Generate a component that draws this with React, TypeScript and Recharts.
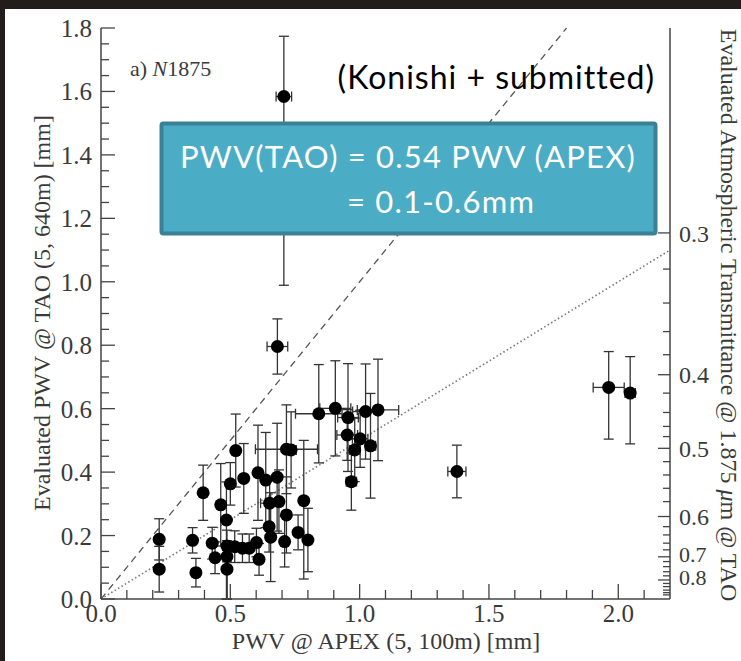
import React from "react";
import { ScatterChart, Scatter, XAxis, YAxis, ErrorBar, ReferenceLine } from "recharts";

// PWV @ APEX (x) vs evaluated PWV @ TAO (y), with errors
const apexPwv = [
  0.707, 0.682, 1.963, 2.046, 1.376, 0.225, 0.225, 0.395, 0.354, 0.367,
  0.43, 0.441, 0.463, 0.485, 0.5, 0.521, 0.552, 0.487, 0.487, 0.487,
  0.517, 0.547, 0.573, 0.601, 0.611, 0.607, 0.637, 0.681, 0.717, 0.735,
  0.652, 0.688, 0.717, 0.65, 0.656, 0.71, 0.762, 0.784, 0.8, 0.842,
  0.906, 0.955, 1.023, 1.071, 0.952, 1.002, 0.981, 1.042, 0.968,
];
const taoPwv = [
  1.584, 0.796, 0.667, 0.649, 0.402, 0.188, 0.094, 0.335, 0.185, 0.083,
  0.176, 0.13, 0.297, 0.249, 0.363, 0.468, 0.38, 0.167, 0.134, 0.094,
  0.165, 0.16, 0.16, 0.178, 0.125, 0.398, 0.375, 0.384, 0.472, 0.47,
  0.302, 0.307, 0.265, 0.228, 0.195, 0.181, 0.21, 0.31, 0.186, 0.584,
  0.601, 0.572, 0.591, 0.596, 0.517, 0.505, 0.47, 0.483, 0.37,
];
const taoErr: (number | number[])[] = [
  [0.595, 0.19], 0.087, [0.163, 0.113], [0.16, 0.115], 0.083, 0.065, 0.072, 0.087, 0.04, 0.045,
  0.05, 0.05, 0.13, [0.25, 0.12], 0.067, 0.115, 0.11, 0.05, [0.134, 0.05], [0.094, 0.06],
  0.05, 0.045, 0.045, 0.045, 0.05, 0.15, 0.15, 0.17, 0.14, 0.12,
  0.08, 0.1, 0.12, 0.08, 0.14, 0.08, 0.055, [0.247, 0.19], 0.1, 0.155,
  0.15, 0.17, 0.15, 0.16, 0.08, 0.09, 0.1, 0.165, 0.09,
];
const apexErr = [
  0.03, 0.04, 0.06, 0.02, 0.035, 0.01, 0.01, 0.01, 0.01, 0.01,
  0.01, 0.01, 0.01, 0.01, 0.01, 0.01, 0.01, 0.01, 0.01, 0.01,
  0.01, 0.01, 0.01, 0.01, 0.01, 0.01, 0.01, 0.01, 0.12, 0.02,
  0.035, 0.01, 0.01, 0.01, 0.01, 0.01, 0.01, 0.01, 0.01, 0.09,
  0.06, 0.04, 0.05, 0.08, 0.04, 0.03, 0.02, 0.02, 0.02,
];

// reference lines y = slope * x
const refSlopes = [1, 0.5];
const refEnds = [1.8, 2.2];

const xMajorTicks = [0, 0.5, 1.0, 1.5, 2.0];
const xMinorTicks = [0.1, 0.2, 0.3, 0.4, 0.6, 0.7, 0.8, 0.9, 1.1, 1.2, 1.3, 1.4, 1.6, 1.7, 1.8, 1.9, 2.1];
const yMajorTicks = [0, 0.2, 0.4, 0.6, 0.8, 1.0, 1.2, 1.4, 1.6, 1.8];

// right axis: transmittance, placed at the PWV it corresponds to
const transLabels = ["0.3", "0.4", "0.5", "0.6", "0.7", "0.8"];
const transMajorPwv = [1.154, 0.707, 0.475, 0.26, 0.133, 0.06];
const transMinorPwv = [
  1.04, 0.933, 0.843, 0.77, 0.649, 0.588, 0.544, 0.512, 0.433, 0.391, 0.349, 0.307,
  0.228, 0.202, 0.176, 0.155, 0.118, 0.102, 0.086, 0.073, 0.049, 0.039, 0.028, 0.02, 0.013,
];

const points = apexPwv.map((x, i) => ({ x, y: taoPwv[i], ey: taoErr[i], ex: apexErr[i] }));

const yMinorTicks: number[] = [];
for (let v = 0.05; v < 1.8; v += 0.05) {
  const r = Math.round(v * 100) / 100;
  if (!yMajorTicks.some((m) => Math.abs(m - r) < 1e-6)) yMinorTicks.push(r);
}

const SERIF = "'Liberation Serif', 'Times New Roman', serif";
const SANS = "Lato, 'Open Sans', sans-serif";
const AX = "#444";
const TXT = "#3a3a3a";
const TICK_FS = 25;

const has = (arr: number[], v: number) => arr.some((m) => Math.abs(m - v) < 1e-6);

const LeftTick = (p: any) => {
  const v = p.payload.value;
  const major = has(yMajorTicks, v);
  return (
    <g>
      <line x1={p.x} x2={p.x + (major ? 14 : 8)} y1={p.y} y2={p.y} stroke={AX} strokeWidth={1.3} />
      {major && (
        <text x={p.x - 9} y={p.y} dy="0.36em" textAnchor="end" fontFamily={SERIF} fontSize={TICK_FS} fill={TXT}>
          {v.toFixed(1)}
        </text>
      )}
    </g>
  );
};

const BottomTick = (p: any) => {
  const v = p.payload.value;
  const major = has(xMajorTicks, v);
  return (
    <g>
      <line x1={p.x} x2={p.x} y1={p.y} y2={p.y - (major ? 15 : 9)} stroke={AX} strokeWidth={1.3} />
      {major && (
        <text x={p.x} y={p.y + 14} dy="0.36em" textAnchor="middle" fontFamily={SERIF} fontSize={TICK_FS} fill={TXT}>
          {v.toFixed(1)}
        </text>
      )}
    </g>
  );
};

const TopTick = (p: any) => {
  const major = has(xMajorTicks, p.payload.value);
  return <line x1={p.x} x2={p.x} y1={p.y} y2={p.y + (major ? 15 : 7)} stroke={AX} strokeWidth={1.3} />;
};

// the two lowest labels sit a little above their ticks, as in the original
const transLabelShift = [0, 0, 0, 0, -3, -3];

const RightTick = (p: any) => {
  const idx = transMajorPwv.findIndex((m) => Math.abs(m - p.payload.value) < 1e-6);
  const major = idx >= 0;
  return (
    <g>
      <line x1={p.x} x2={p.x - (major ? 12 : 7)} y1={p.y} y2={p.y} stroke={AX} strokeWidth={1.3} />
      {major && (
        <text
          x={p.x + 9}
          y={p.y + transLabelShift[idx]}
          dy="0.36em"
          textAnchor="start"
          fontFamily={SERIF}
          fontSize={idx >= 4 ? 22 : 24}
          fill={TXT}
        >
          {transLabels[idx]}
        </text>
      )}
    </g>
  );
};

const Dot = (p: any) => <circle cx={p.cx} cy={p.cy} r={6.5} fill="#000" />;

export default function App() {
  return (
    <div style={{ position: "absolute", left: 0, top: 0, width: 741, height: 661, background: "#221d1a", overflow: "hidden" }}>
      <div style={{ position: "absolute", left: 5, top: 9, width: 736, height: 652, background: "#fff" }} />
      <div style={{ position: "absolute", left: 0, top: 0 }}>
        <ScatterChart width={741} height={661} margin={{ top: 28, right: 0, bottom: 0, left: 0 }}>
          <XAxis
            xAxisId="b"
            type="number"
            dataKey="x"
            domain={[0, 2.2]}
            allowDataOverflow
            ticks={[...xMajorTicks, ...xMinorTicks].sort((a, b) => a - b)}
            interval={0}
            height={62}
            tickSize={0}
            tickMargin={0}
            tickLine={false}
            tick={BottomTick}
            axisLine={{ stroke: AX, strokeWidth: 1.5 }}
          />
          <XAxis
            xAxisId="t"
            orientation="top"
            type="number"
            domain={[0, 2.2]}
            allowDataOverflow
            ticks={[...xMajorTicks, ...xMinorTicks].sort((a, b) => a - b)}
            interval={0}
            height={0}
            tickSize={0}
            tickMargin={0}
            tickLine={false}
            tick={TopTick}
            axisLine={{ stroke: AX, strokeWidth: 1.5 }}
          />
          <YAxis
            yAxisId="l"
            type="number"
            dataKey="y"
            domain={[0, 1.8]}
            allowDataOverflow
            ticks={[...yMajorTicks, ...yMinorTicks].sort((a, b) => a - b)}
            interval={0}
            width={101}
            tickSize={0}
            tickMargin={0}
            tickLine={false}
            tick={LeftTick}
            axisLine={{ stroke: AX, strokeWidth: 1.5 }}
          />
          <YAxis
            yAxisId="r"
            orientation="right"
            type="number"
            domain={[0, 1.8]}
            allowDataOverflow
            ticks={[...transMajorPwv, ...transMinorPwv].sort((a, b) => a - b)}
            interval={0}
            width={71}
            tickSize={0}
            tickMargin={0}
            tickLine={false}
            tick={RightTick}
            axisLine={{ stroke: AX, strokeWidth: 1.5 }}
          />
          <ReferenceLine
            xAxisId="b"
            yAxisId="l"
            segment={[{ x: 0, y: 0 }, { x: refEnds[0], y: refSlopes[0] * refEnds[0] }]}
            stroke="#555"
            strokeWidth={1.3}
            strokeDasharray="7 5"
            ifOverflow="visible"
          />
          <ReferenceLine
            xAxisId="b"
            yAxisId="l"
            segment={[{ x: 0, y: 0 }, { x: refEnds[1], y: refSlopes[1] * refEnds[1] }]}
            stroke="#777"
            strokeWidth={1.6}
            strokeDasharray="1.5 2.5"
            ifOverflow="visible"
          />
          <Scatter xAxisId="b" yAxisId="l" data={points} shape={Dot} isAnimationActive={false}>
            <ErrorBar dataKey="ey" direction="y" width={5} stroke="#333" strokeWidth={1.3} isAnimationActive={false} />
            <ErrorBar dataKey="ex" direction="x" width={5} stroke="#333" strokeWidth={1.3} isAnimationActive={false} />
          </Scatter>
        </ScatterChart>
      </div>
      <svg width={741} height={661} style={{ position: "absolute", left: 0, top: 0, pointerEvents: "none" }}>
        <text x={130} y={68} dy="0.35em" fontFamily={SERIF} fontSize={22} fill={TXT}>
          a) <tspan fontStyle="italic">N</tspan>1875
        </text>
        <text x={42} y={313} transform="rotate(-90 42 313)" textAnchor="middle" dy="0.35em" fontFamily={SERIF} fontSize={24} fill={TXT}>
          Evaluated PWV @ TAO (5, 640m) [mm]
        </text>
        <text x={386} y={641} textAnchor="middle" dy="0.35em" fontFamily={SERIF} fontSize={24} fill={TXT}>
          PWV @ APEX (5, 100m) [mm]
        </text>
        <text x={729} y={315} transform="rotate(90 729 315)" textAnchor="middle" dy="0.35em" fontFamily={SERIF} fontSize={24} fill={TXT}>
          Evaluated Atmospheric Transmittance @ 1.875 <tspan fontStyle="italic">μ</tspan>m @ TAO
        </text>
        <text x={655} y={78} dy="0.35em" textAnchor="end" fontFamily={SANS} fontSize={32} letterSpacing={1} fill="#000">
          (Konishi + submitted)
        </text>
        <rect x={161.5} y={123.5} width={494} height={110} rx={2} fill="#4bacc6" stroke="#3b8196" strokeWidth={4} />
        <text x={408} y={168} textAnchor="middle" fontFamily={SANS} fontSize={31} letterSpacing={1.2} fill="#fff">
          PWV(TAO) = 0.54 PWV (APEX)
        </text>
        <text x={347} y={213} textAnchor="start" fontFamily={SANS} fontSize={31} letterSpacing={1.2} fill="#fff">
          = 0.1-0.6mm
        </text>
      </svg>
    </div>
  );
}
